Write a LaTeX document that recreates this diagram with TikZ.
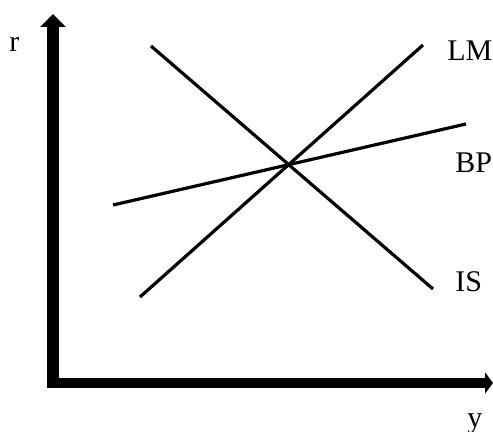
\documentclass[tikz,border=0pt]{standalone}
\usepackage{fontspec}
\setmainfont{Liberation Serif}
\usepackage{tikz}
\usetikzlibrary{arrows.meta}

\begin{document}
\begin{tikzpicture}[
  x=0.5pt, y=-0.5pt,
  vaxis/.style={line width=6pt, -{Triangle[length=6.5pt, width=12.5pt]}},
  haxis/.style={line width=5pt, -{Triangle[length=4pt, width=10.5pt]}},
  curve/.style={line width=1.6pt},
  lbl/.style={anchor=base west, inner sep=0pt, font=\fontsize{15}{18}\selectfont}
]
\useasboundingbox (0,0) rectangle (493,432);
% axes
\coordinate (origin) at (53,388);
\coordinate (rtop) at (53,14);
\coordinate (hstart) at (47,383);
\coordinate (yend) at (493,383);
\draw[vaxis] (origin) -- (rtop);
\draw[haxis] (hstart) -- (yend);
% curve ends
\coordinate (is1) at (151,46);
\coordinate (is2) at (433,289);
\coordinate (lm1) at (140,297);
\coordinate (lm2) at (423,45);
\coordinate (bp1) at (113,205);
\coordinate (bp2) at (466,124);
\draw[curve] (is1) -- (is2);
\draw[curve] (lm1) -- (lm2);
\draw[curve] (bp1) -- (bp2);
% labels
\node[lbl] (rlabel) at (9,52) {r};
\node[lbl] (ylabel) at (467,428) {y};
\node[lbl] (lmlabel) at (447,61) {LM};
\node[lbl] (bplabel) at (455,173) {BP};
\node[lbl] (islabel) at (455,292) {IS};
\end{tikzpicture}
\end{document}
